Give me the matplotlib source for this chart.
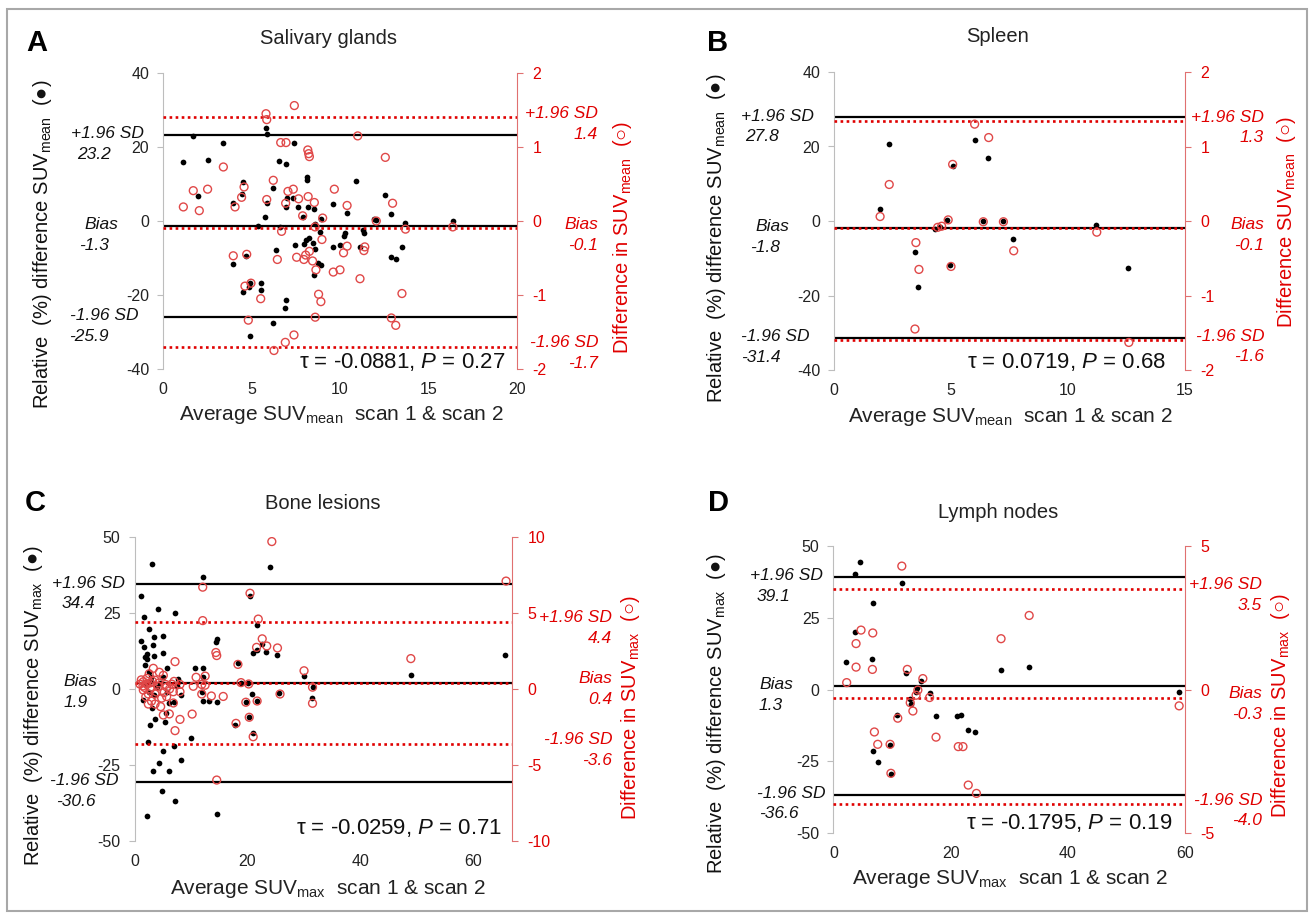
import matplotlib

matplotlib.use("Agg")
import matplotlib.pyplot as plt
from matplotlib.patches import Rectangle

W, H = 1310, 913

plt.rcParams["font.family"] = ["Liberation Sans", "DejaVu Sans"]
plt.rcParams["mathtext.fontset"] = "custom"
plt.rcParams["mathtext.rm"] = "Liberation Sans"
plt.rcParams["mathtext.it"] = "Liberation Sans:italic"
plt.rcParams["mathtext.fallback"] = "stixsans"
plt.rcParams["axes.unicode_minus"] = False

# ---- A: salivary glands (SUVmean) ----
SAL_AVG_REL = [1.68, 1.15, 2.0, 2.52, 3.37, 3.97, 4.54, 4.44, 3.93, 4.69, 4.92, 4.88, 4.54, 4.92, 5.52,
               5.52, 5.39, 5.82, 5.86, 6.23, 5.86, 5.78, 6.38, 6.61, 6.57, 6.95, 6.99, 6.95, 7.36, 7.42,
               6.95, 6.89, 6.23, 7.65, 7.89, 8.12, 8.16, 8.2, 8.53, 8.57, 7.46, 7.96, 8.08, 8.27, 8.45,
               8.6, 8.53, 8.77, 8.91, 8.87, 8.92, 9.59, 9.62, 10.0, 10.2, 10.3, 10.4, 10.9, 11.13, 11.32,
               11.35, 11.9, 12.05, 12.56, 12.86, 12.9, 13.15, 13.5, 13.7, 16.37]
SAL_REL_DIFF = [23.1, 16.0, 6.8, 16.6, 21.2, 4.8, 10.6, 7.3, -11.7, -9.5, -16.7, -17.9, -19.1, -31.1, -16.7,
                -18.6, -1.35, 25.0, 23.5, 8.8, 5.0, 1.2, -7.8, -1.7, 16.3, 15.4, 6.1, 3.7, 6.1, 21.2,
                -21.4, -23.6, -27.7, 3.9, 1.2, 12.0, 11.1, 3.9, 3.2, -0.8, -6.4, -6.2, -5.1, -4.7, -6.0,
                -7.7, -14.6, -11.4, -12.0, -2.9, 0.5, -6.9, 4.5, -6.5, -4.0, -3.2, 2.2, 10.9, -6.9, -2.4,
                -3.2, 0.5, 0.2, 7.0, -9.8, 1.9, -10.4, -6.9, -0.6, 0.0]
SAL_AVG_ABS = [1.15, 1.71, 2.05, 2.52, 3.41, 3.97, 4.07, 4.44, 4.58, 4.73, 4.63, 4.97, 4.82, 5.52, 5.86,
               5.82, 5.86, 6.23, 6.46, 6.7, 6.93, 7.06, 7.36, 7.4, 6.91, 6.27, 7.42, 6.65, 6.95, 7.66,
               7.89, 7.55, 7.96, 8.06, 8.27, 8.45, 8.55, 8.2, 8.18, 8.23, 8.27, 8.59, 8.98, 9.02, 8.64,
               8.6, 8.79, 8.92, 9.62, 9.68, 10.0, 10.2, 10.4, 10.4, 11.0, 11.13, 11.4, 11.35, 12.05, 12.56,
               12.97, 12.9, 13.15, 13.5, 13.7, 16.37]
SAL_ABS_DIFF = [0.19, 0.41, 0.14, 0.43, 0.73, -0.47, 0.19, 0.32, 0.46, -0.45, -0.88, -0.84, -1.34, -1.05, 0.29,
                1.45, 1.37, 0.55, -0.52, -0.14, 0.24, 0.40, 0.43, -1.54, -1.64, -1.75, 1.56, 1.06, 1.06, 0.30,
                0.07, -0.49, -0.52, -0.46, -0.41, -0.54, 0.25, 0.33, 0.96, 0.91, 0.87, -0.08, -0.25, 0.04, -0.66,
                -1.30, -0.99, -1.09, -0.69, 0.43, -0.66, -0.43, 0.21, -0.34, 1.15, -0.78, -0.35, -0.40, 0.0, 0.86,
                0.24, -1.31, -1.41, -0.98, -0.11, -0.08]
SAL_REL_LIMITS = [23.2, -1.3, -25.9]
SAL_ABS_LIMITS = [1.4, -0.1, -1.7]
SAL_TAU, SAL_P = "-0.0881", "0.27"

# ---- B: spleen (SUVmean) ----
SPL_AVG_REL = [2.36, 1.97, 3.46, 3.58, 4.32, 4.53, 4.84, 4.96, 5.07, 6.03, 6.57, 6.35, 7.24, 7.66, 11.2, 12.56]
SPL_REL_DIFF = [20.7, 3.3, -8.4, -17.8, -2.2, -1.5, 0.4, -11.8, 14.8, 21.7, 16.9, 0.1, 0.1, -4.9, -1.0, -12.7]
SPL_AVG_ABS = [2.36, 1.97, 3.5, 3.63, 3.46, 4.43, 4.6, 4.88, 5.0, 5.07, 6.01, 6.61, 6.38, 7.24, 7.68, 11.23, 12.6]
SPL_ABS_DIFF = [0.49, 0.06, -0.29, -0.65, -1.45, -0.085, -0.07, 0.015, -0.61, 0.76, 1.30, 1.12, -0.01, -0.01,
                -0.40, -0.15, -1.63]
SPL_REL_LIMITS = [27.8, -1.8, -31.4]
SPL_ABS_LIMITS = [1.34, -0.1, -1.6]
SPL_TAU, SPL_P = "0.0719", "0.68"

# ---- C: bone lesions (SUVmax) ----
BONE_AVG_REL = [3.04, 12.07, 1.15, 4.22, 7.17, 1.74, 2.62, 3.45, 5.10, 1.21, 1.68, 3.21, 2.15, 1.86, 3.45,
                5.10, 2.27, 1.86, 5.69, 2.62, 2.86, 10.7, 12.18, 14.55, 14.4, 12.07, 5.10, 7.76, 1.56, 3.04,
                6.16, 6.99, 5.57, 5.40, 3.63, 2.74, 8.17, 11.9, 12.18, 13.2, 14.55, 17.8, 9.94, 6.99, 2.45,
                4.98, 8.17, 4.34, 3.33, 6.10, 4.92, 7.17, 2.27, 14.55, 2.0, 3.0, 4.0, 4.5, 5.8,
                3.5, 2.5, 7.5, 23.98, 20.44, 21.7, 22.5, 21.6, 21.0, 23.3, 25.2, 18.3, 18.85, 20.15, 20.85,
                19.7, 21.7, 25.5, 20.3, 21.0, 30.0, 31.5, 31.4, 48.9, 65.6]
BONE_REL_DIFF = [41.1, 36.7, 30.7, 26.2, 24.9, 23.8, 19.6, 17.0, 17.4, 15.9, 13.9, 14.4, 11.4, 10.6, 10.8,
                 11.9, 9.8, 7.9, 6.8, 5.7, 4.0, 6.9, 6.9, 16.3, 15.6, 3.8, 3.8, 3.2, -3.6, -6.4,
                 -4.5, -4.4, -7.8, -10.7, -10.0, -11.8, -2.0, -0.9, -3.8, -4.1, -4.4, -11.8, -16.2, -18.8, -17.3,
                 -20.3, -23.4, -24.5, -27.1, -27.1, -33.4, -36.9, -41.8, -41.1, 1.5, 2.5, 0.5, 2.0, -1.0,
                 -2.0, -1.0, 1.0, 40.2, 30.6, 21.1, 14.7, 12.8, 11.7, 12.3, 11.2, 8.7, 2.1, 1.9, -1.6,
                 -4.2, -3.9, -1.2, -9.1, -14.6, 4.3, 0.8, -3.1, 4.6, 11.2]
BONE_AVG_ABS = [12.07, 12.07, 14.4, 14.55, 7.17, 3.33, 4.4, 5.1, 10.9, 12.5, 1.56, 0.97, 2.15, 2.74, 3.63,
                4.2, 5.7, 6.6, 8.05, 10.4, 11.9, 12.5, 1.56, 2.45, 3.63, 5.22, 6.87, 8.05, 5.69, 11.9,
                13.6, 15.7, 2.45, 3.63, 4.63, 6.87, 6.16, 5.1, 8.05, 10.2, 7.17, 14.55, 1.2, 1.8, 2.2,
                2.8, 3.2, 3.9, 4.3, 4.8, 5.5, 2.0, 3.0, 6.2, 7.0, 1.5, 2.6, 24.3, 20.44, 21.9,
                22.6, 21.6, 23.4, 25.3, 18.3, 18.85, 20.2, 19.7, 21.7, 25.75, 20.3, 17.96, 21.0, 30.0, 31.5,
                31.5, 48.9, 65.75]
BONE_ABS_DIFF = [6.7, 4.5, 2.4, 2.2, 1.8, 1.36, 1.1, 0.9, 0.77, 0.85, 0.48, 0.32, 0.32, 0.40, 0.58,
                 0.18, 0.13, 0.32, 0.30, 0.18, 0.30, 0.25, -0.07, -0.33, -0.33, -0.24, -0.18, -0.18, -0.5, -0.33,
                 -0.46, -0.49, -0.99, -0.99, -1.16, -0.92, -1.64, -1.71, -2.0, -1.65, -2.74, -5.99, 0.6, 0.1, 0.7,
                 0.0, 0.5, -0.2, 0.4, -0.6, 0.3, -0.5, -0.8, 0.0, 0.5, 0.2, 1.0, 9.7, 6.3, 4.6,
                 3.3, 2.74, 2.83, 2.7, 1.62, 0.42, 0.33, -0.87, -0.79, -0.33, -1.86, -2.26, -3.14, 1.2, 0.12,
                 -0.94, 2.0, 7.1]
BONE_REL_LIMITS = [34.4, 1.9, -30.6]
BONE_ABS_LIMITS = [4.4, 0.4, -3.6]
BONE_TAU, BONE_P = "-0.0259", "0.71"

# ---- D: lymph nodes (SUVmax) ----
LN_AVG_REL = [4.53, 3.68, 11.66, 6.8, 3.68, 2.08, 6.64, 12.4, 14.96, 14.3, 14.0, 16.4, 13.1, 13.25, 10.8,
              17.5, 21.06, 21.8, 22.9, 24.2, 6.8, 7.55, 9.66, 9.77, 28.6, 33.3, 58.9]
LN_REL_DIFF = [44.4, 40.1, 37.0, 30.0, 20.0, 9.6, 10.7, 5.6, 3.0, 0.6, -0.8, -1.3, -3.4, -5.2, -8.9,
               -9.2, -9.2, -8.9, -14.2, -14.7, -21.4, -25.1, -19.5, -29.6, 6.7, 7.9, -0.8]
LN_AVG_ABS = [11.66, 4.7, 6.7, 3.85, 3.85, 6.64, 2.25, 12.6, 15.25, 14.4, 14.1, 16.4, 13.1, 13.55, 10.97,
              6.98, 7.55, 9.66, 9.8, 17.5, 21.3, 22.1, 23.0, 24.4, 28.6, 33.4, 59.0]
LN_ABS_DIFF = [4.3, 2.07, 1.97, 1.6, 0.78, 0.7, 0.24, 0.7, 0.38, -0.02, -0.2, -0.28, -0.46, -0.75, -1.0,
               -1.48, -1.91, -1.91, -2.92, -1.66, -1.99, -1.99, -3.33, -3.62, 1.77, 2.58, -0.57]
LN_REL_LIMITS = [39.1, 1.3, -36.6]
LN_ABS_LIMITS = [3.5, -0.3, -4.0]
LN_TAU, LN_P = "-0.1795", "0.19"

LIMIT_NAMES = ["+1.96 SD", "Bias", "-1.96 SD"]

RED = "#e00000"
RED_SOFT = "#e04848"
NOTE_SIZE = 12.5


def fy(y):
    return 1 - y / H


def draw_panel(fig, lay, avg_rel, rel_diff, avg_abs, abs_diff, rel_limits, abs_limits, tau, pval):
    left, top, right, bottom = lay["box"]
    ax = fig.add_axes([left / W, fy(bottom), (right - left) / W, (bottom - top) / H])
    ax2 = ax.twinx()

    ax.set_xlim(*lay["xlim"])
    ax.set_xticks(lay["xticks"])
    ax.set_ylim(-lay["rel_max"], lay["rel_max"])
    ax.set_yticks(lay["rel_ticks"])
    ax2.set_ylim(-lay["abs_max"], lay["abs_max"])
    ax2.set_yticks(lay["abs_ticks"])

    for side in ("top", "right", "bottom"):
        ax.spines[side].set_visible(False)
    ax.spines["left"].set_color("#bdbdbd")
    for side in ("top", "left", "bottom"):
        ax2.spines[side].set_visible(False)
    ax2.spines["right"].set_color("#e07070")

    ax.tick_params(axis="y", direction="out", length=4, color="#bdbdbd", labelsize=11.5,
                   labelcolor="#222222", pad=6)
    ax.tick_params(axis="x", length=0, labelsize=11.5, labelcolor="#222222", pad=9)
    ax2.tick_params(axis="y", direction="out", length=4, color="#e07070", labelsize=11.5,
                    labelcolor=RED, pad=7)

    for v in rel_limits:
        ax.axhline(v, color="black", lw=1.6, zorder=2)
    for v in abs_limits:
        ax2.axhline(v, color=RED, lw=1.9, ls=(0, (1, 1.3)), zorder=2)

    ax.scatter(avg_rel, rel_diff, s=17, color="black", linewidths=0, zorder=3)
    ax2.scatter(avg_abs, abs_diff, s=32, facecolors="none", edgecolors=RED_SOFT,
                linewidths=1.0, zorder=4)

    # limits of agreement labels, left (black) and right (red)
    for name, v, (xn, xv) in zip(LIMIT_NAMES, rel_limits, lay["left_x"]):
        ax.annotate(name, xy=(xn, v), xycoords=("figure pixels", "data"), xytext=(0, 1),
                    textcoords="offset points", ha="left", va="center", fontsize=NOTE_SIZE,
                    style="italic", color="#111111", annotation_clip=False)
        ax.annotate(f"{v:.1f}", xy=(xv, v), xycoords=("figure pixels", "data"), xytext=(0, -14),
                    textcoords="offset points", ha="left", va="center", fontsize=NOTE_SIZE,
                    style="italic", color="#111111", annotation_clip=False)
    for name, v in zip(LIMIT_NAMES, abs_limits):
        ax2.annotate(name, xy=(lay["right_x"], v), xycoords=("figure pixels", "data"), xytext=(0, 3),
                     textcoords="offset points", ha="right", va="center", fontsize=NOTE_SIZE,
                     style="italic", color=RED, annotation_clip=False)
        ax2.annotate(f"{v:.1f}", xy=(lay["right_x"], v), xycoords=("figure pixels", "data"),
                     xytext=(0, -12), textcoords="offset points", ha="right", va="center",
                     fontsize=NOTE_SIZE, style="italic", color=RED, annotation_clip=False)

    suv = lay["suv"]
    fig.text(lay["letter"][0] / W, fy(lay["letter"][1]), lay["name"], fontsize=21,
             fontweight="bold", ha="center", va="center")
    fig.text(lay["title"][0] / W, fy(lay["title"][1]), lay["title_text"], fontsize=14.5,
             ha="center", va="center", color="#222222")
    fig.text(lay["xlabel"][0] / W, fy(lay["xlabel"][1]),
             "Average SUV$_{\\mathrm{" + suv + "}}$  scan 1 & scan 2", fontsize=15,
             ha="center", va="center", color="#222222")
    fig.text(lay["ylabel"][0] / W, fy(lay["ylabel"][1]),
             "Relative  (%) difference SUV$_{\\mathrm{" + suv + "}}$  (●)", fontsize=14.5,
             rotation=90, ha="center", va="center", color="#111111")
    fig.text(lay["ylabel2"][0] / W, fy(lay["ylabel2"][1]),
             lay["right_prefix"] + "SUV$_{\\mathrm{" + suv + "}}$  (○)", fontsize=14.5,
             rotation=90, ha="center", va="center", color=RED)
    fig.text(lay["tau"][0] / W, fy(lay["tau"][1]),
             "τ = " + tau + ", $\\mathit{P}$ = " + pval, fontsize=16, ha="right",
             va="center", color="#111111")


LAYOUTS = {
    "A": dict(name="A", title_text="Salivary glands", suv="mean", right_prefix="Difference in ",
              box=(163, 73, 517, 369), xlim=(0, 20), xticks=[0, 5, 10, 15, 20],
              rel_max=40, rel_ticks=[-40, -20, 0, 20, 40], abs_max=2, abs_ticks=[-2, -1, 0, 1, 2],
              letter=(37, 43), title=(328, 38), xlabel=(341, 415), ylabel=(43, 244),
              ylabel2=(623, 237), tau=(505, 362),
              left_x=[(71, 77), (84, 79), (70, 69)], right_x=598),
    "B": dict(name="B", title_text="Spleen", suv="mean", right_prefix="Difference ",
              box=(834, 72, 1185, 370), xlim=(0, 15), xticks=[0, 5, 10, 15],
              rel_max=40, rel_ticks=[-40, -20, 0, 20, 40], abs_max=2, abs_ticks=[-2, -1, 0, 1, 2],
              letter=(718, 43), title=(998, 36), xlabel=(1010, 417), ylabel=(717, 238),
              ylabel2=(1287, 222), tau=(1166, 362),
              left_x=[(741, 745), (755, 750), (741, 741)], right_x=1264),
    "C": dict(name="C", title_text="Bone lesions", suv="max", right_prefix="Difference in ",
              box=(134.5, 537, 512, 841), xlim=(0, 66.8), xticks=[0, 20, 40, 60],
              rel_max=50, rel_ticks=[-50, -25, 0, 25, 50], abs_max=10, abs_ticks=[-10, -5, 0, 5, 10],
              letter=(35, 503), title=(323, 503), xlabel=(328, 889), ylabel=(34, 706),
              ylabel2=(630, 708), tau=(502, 828),
              left_x=[(52, 62), (63, 64), (50, 56)], right_x=612),
    "D": dict(name="D", title_text="Lymph nodes", suv="max", right_prefix="Difference in ",
              box=(833.5, 546, 1185, 833), xlim=(0, 60), xticks=[0, 20, 40, 60],
              rel_max=50, rel_ticks=[-50, -25, 0, 25, 50], abs_max=5, abs_ticks=[-5, 0, 5],
              letter=(719, 503), title=(998, 513), xlabel=(1010, 879), ylabel=(716, 714),
              ylabel2=(1281, 706), tau=(1172, 823),
              left_x=[(750, 757), (759, 759), (757, 759)], right_x=1262),
}


def main():
    fig = plt.figure(figsize=(W / 100, H / 100), dpi=100)
    fig.patches.append(Rectangle((7 / W, fy(911)), 1300 / W, 902 / H, transform=fig.transFigure,
                                 fill=False, edgecolor="#a8a8a8", lw=1.5))

    draw_panel(fig, LAYOUTS["A"], SAL_AVG_REL, SAL_REL_DIFF, SAL_AVG_ABS, SAL_ABS_DIFF,
               SAL_REL_LIMITS, SAL_ABS_LIMITS, SAL_TAU, SAL_P)
    draw_panel(fig, LAYOUTS["B"], SPL_AVG_REL, SPL_REL_DIFF, SPL_AVG_ABS, SPL_ABS_DIFF,
               SPL_REL_LIMITS, SPL_ABS_LIMITS, SPL_TAU, SPL_P)
    draw_panel(fig, LAYOUTS["C"], BONE_AVG_REL, BONE_REL_DIFF, BONE_AVG_ABS, BONE_ABS_DIFF,
               BONE_REL_LIMITS, BONE_ABS_LIMITS, BONE_TAU, BONE_P)
    draw_panel(fig, LAYOUTS["D"], LN_AVG_REL, LN_REL_DIFF, LN_AVG_ABS, LN_ABS_DIFF,
               LN_REL_LIMITS, LN_ABS_LIMITS, LN_TAU, LN_P)

    fig.savefig("out.png", dpi=100)
    plt.close(fig)


if __name__ == "__main__":
    main()
